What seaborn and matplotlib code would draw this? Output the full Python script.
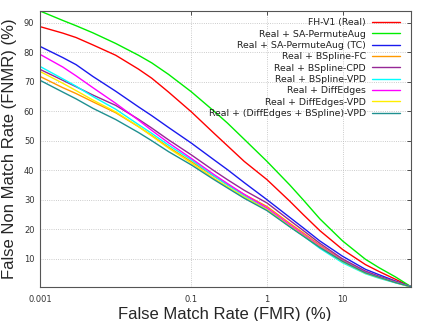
import pandas as pd
import matplotlib
matplotlib.use('Agg')
import matplotlib.pyplot as plt
import seaborn as sns

# FMR sample points (%)
fmr = [0.001, 0.002, 0.003, 0.005, 0.01, 0.02, 0.03, 0.05, 0.1, 0.2, 0.3,
       0.5, 1, 2, 3, 5, 10, 20, 30, 50, 80]

# FNMR (%)
fh_v1 = [88.7, 86.5, 85.0, 82.5, 79.0, 74.3, 71.2, 66.5, 59.8, 52.5, 48.3,
         43.0, 36.8, 29.5, 25.0, 19.5, 13.1, 8.0, 5.7, 3.0, 0.5]
sa_permute = [94.0, 90.8, 89.0, 86.6, 83.0, 79.0, 76.4, 72.5, 66.6, 60.0, 56.0,
              50.5, 43.0, 35.0, 30.0, 23.5, 16.0, 9.8, 7.0, 3.8, 0.5]
sa_permute_tc = [82.0, 78.2, 75.8, 71.8, 66.8, 61.5, 58.5, 54.5, 49.2, 43.5, 40.2,
                 35.8, 30.0, 24.0, 20.5, 16.0, 10.8, 6.4, 4.6, 2.4, 0.5]
bspline_fc = [71.8, 68.0, 66.0, 63.2, 59.5, 54.8, 51.8, 47.8, 42.9, 37.9, 35.1,
              31.8, 27.7, 22.0, 18.8, 14.6, 9.5, 5.5, 3.9, 2.1, 0.5]
bspline_cpd = [74.2, 70.5, 68.3, 65.5, 62.0, 57.3, 54.3, 50.3, 45.2, 39.8, 36.8,
               33.2, 28.9, 23.0, 19.6, 15.2, 9.9, 5.8, 4.1, 2.2, 0.5]
bspline_vpd = [75.2, 71.0, 68.5, 65.0, 60.7, 55.5, 52.5, 48.5, 43.5, 38.0, 35.0,
               31.3, 26.8, 21.0, 17.8, 13.5, 8.6, 4.9, 3.4, 1.8, 0.4]
diffedges = [79.3, 75.0, 72.0, 68.0, 62.7, 57.0, 53.5, 49.3, 44.0, 38.5, 35.5,
             31.8, 27.2, 21.5, 18.3, 14.2, 9.2, 5.3, 3.7, 2.0, 0.5]
diffedges_vpd = [73.5, 69.5, 67.0, 63.8, 59.8, 54.8, 51.6, 47.5, 42.4, 37.2, 34.4,
                 30.9, 26.6, 21.0, 17.9, 13.9, 9.0, 5.1, 3.6, 1.9, 0.4]
diff_bspline_vpd = [70.5, 66.5, 64.2, 61.0, 57.2, 52.8, 50.0, 46.3, 41.8, 36.8, 34.0,
                    30.5, 26.3, 20.8, 17.7, 13.8, 9.1, 5.2, 3.7, 1.9, 0.5]

names = ['FH-V1 (Real)', 'Real + SA-PermuteAug', 'Real + SA-PermuteAug (TC)',
         'Real + BSpline-FC', 'Real + BSpline-CPD', 'Real + BSpline-VPD',
         'Real + DiffEdges', 'Real + DiffEdges-VPD', 'Real + (DiffEdges + BSpline)-VPD']
series = [fh_v1, sa_permute, sa_permute_tc, bspline_fc, bspline_cpd, bspline_vpd,
          diffedges, diffedges_vpd, diff_bspline_vpd]
colors = ['#ff0000', '#00ee00', '#1a1aee', '#ff9900', '#962896',
          '#00ffff', '#ff00ff', '#ffee00', '#1f9090']

df = pd.concat([pd.DataFrame({'fmr': fmr, 'fnmr': s, 'model': n})
                for n, s in zip(names, series)], ignore_index=True)

sns.set_style('white')
plt.rcParams['font.family'] = ['DejaVu Sans']

fig = plt.figure(figsize=(4.28, 3.21), dpi=100)
ax = fig.add_axes([40 / 428, 34 / 321, 371 / 428, 276 / 321])

sns.lineplot(data=df, x='fmr', y='fnmr', hue='model', hue_order=names,
             palette=dict(zip(names, colors)), estimator=None, sort=False,
             linewidth=1.0, ax=ax)

ax.set_xscale('log')
ax.set_xlim(0.001, 80)
ax.set_ylim(0.4, 94)
ax.set_xticks([0.001, 0.1, 1, 10])
ax.set_xticklabels(['0.001', '0.1', '1', '10'])
ax.set_yticks(range(10, 100, 10))
ax.minorticks_off()
ax.tick_params(direction='in', length=3, width=0.6, top=True, right=True,
               labelsize=6, colors='#333333', pad=4)
ax.tick_params(axis='x', pad=6)
ax.grid(True, linestyle=':', linewidth=0.6, color='#bbbbbb')
for sp in ax.spines.values():
    sp.set_color('#555555')
    sp.set_linewidth(0.8)

ax.set_xlabel('False Match Rate (FMR) (%)', fontsize=12, family='Liberation Sans')
ax.set_ylabel('False Non Match Rate (FNMR) (%)', fontsize=12, family='Liberation Sans')
ax.xaxis.set_label_coords(0.497, -0.074)
ax.yaxis.set_label_coords(-0.062, 0.502)

leg = ax.legend(loc='upper right', bbox_to_anchor=(0.970, 0.974), frameon=False,
                markerfirst=False, fontsize=6.75, handlelength=3.0, handletextpad=0.6,
                labelspacing=0.25, borderpad=0, borderaxespad=0)
for t in leg.get_texts():
    t.set_color('#222222')

fig.savefig('out.png', dpi=100)
